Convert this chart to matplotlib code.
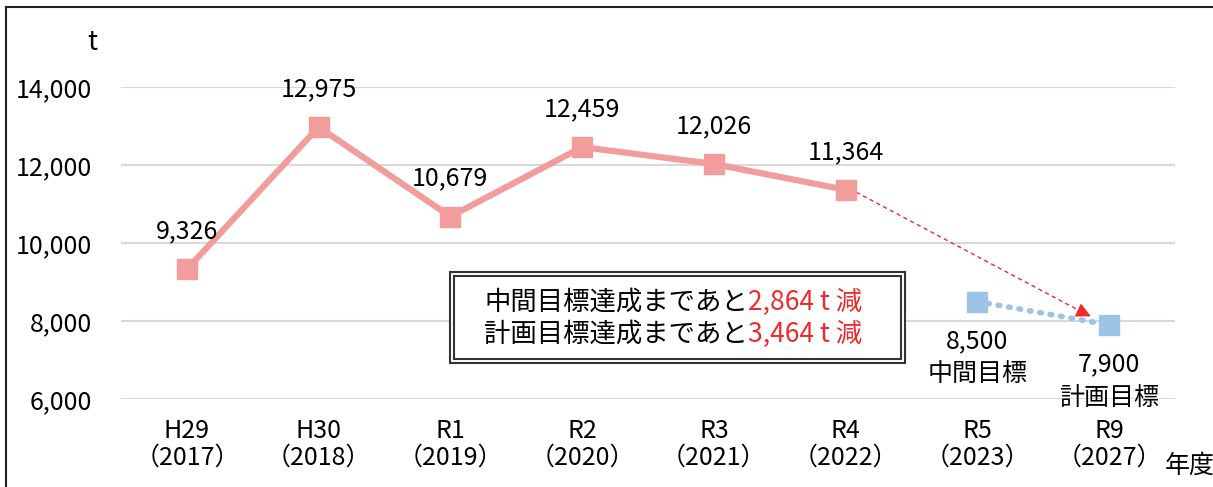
import matplotlib
matplotlib.use('Agg')
import matplotlib.pyplot as plt
from matplotlib.lines import Line2D
from matplotlib.patches import Rectangle

plt.rcParams['font.family'] = ['Noto Sans CJK JP', 'DejaVu Sans']

years = ['H29\n（2017）', 'H30\n（2018）', 'R1\n（2019）', 'R2\n（2020）',
         'R3\n（2021）', 'R4\n（2022）', 'R5\n（2023）', 'R9\n（2027）']
actual = [9326, 12975, 10679, 12459, 12026, 11364]
targets = [8500, 7900]
target_names = ['中間目標', '計画目標']
yticks = [6000, 8000, 10000, 12000, 14000]

pink = '#F29C9C'
blue = '#9DC3E6'
red = '#EE2A2A'

fig = plt.figure(figsize=(12.13, 4.87), dpi=100)
ax = fig.add_axes([121 / 1213, 1 - 399 / 487, (1175 - 121) / 1213, (399 - 87) / 487])

xs = list(range(len(actual)))
xt = [len(actual), len(actual) + 1]
ax.plot(xs, actual, color=pink, lw=4.5, marker='s', ms=14, zorder=3)
ax.plot(xt, targets, color=blue, lw=4, ls=(0, (0.3, 1.6)), dash_capstyle='round',
        marker='s', ms=14, zorder=3)

# dashed red arrow from R4 toward the plan target
ax.plot([xs[-1] + 0.08, xt[1] - 0.15], [actual[-1] - 60, targets[1] + 230],
        color=red, lw=1, ls=(0, (3, 2.5)), zorder=2)
ax.annotate('', xy=(xt[1] - 0.12, targets[1] + 190), xytext=(xt[1] - 0.2, targets[1] + 320),
            arrowprops=dict(arrowstyle='-|>', color=red, lw=1, mutation_scale=22), zorder=4)

for x, v in zip(xs, actual):
    ax.annotate(f'{v:,}', (x, v), xytext=(0, 18), textcoords='offset points',
                ha='center', va='bottom', fontsize=18)
for x, v, n in zip(xt, targets, target_names):
    ax.annotate(f'{v:,}\n{n}', (x, v), xytext=(0, -19), textcoords='offset points',
                ha='center', va='top', fontsize=18, linespacing=1.4)

ax.set_xlim(-0.5, len(years) - 0.5)
ax.set_ylim(6000, 14000)
ax.set_xticks(range(len(years)))
ax.set_xticklabels(years, fontsize=18, linespacing=1.0)
ax.set_yticks(yticks)
ax.set_yticklabels([f'{v:,}' for v in yticks], fontsize=18)
ax.tick_params(length=0)
ax.tick_params(axis='x', pad=14)
ax.tick_params(axis='y', pad=21)
ax.grid(axis='y', color='#D9D9D9', lw=1.5)
ax.set_axisbelow(True)
for s in ax.spines.values():
    s.set_visible(False)

fig.text(92 / 1213, 1 - 42 / 487, 't', fontsize=19, ha='center', va='center')
fig.text(1190 / 1213, 1 - 466 / 487, '年度', fontsize=18, ha='center', va='center')

# double-bordered note box
fig.patches.append(Rectangle((450 / 1213, 1 - 363 / 487), 455 / 1213, 91 / 487,
                             transform=fig.transFigure, fill=True, fc='white',
                             ec='#333333', lw=1.5, zorder=5))
fig.patches.append(Rectangle((454 / 1213, 1 - 359 / 487), 447 / 1213, 83 / 487,
                             transform=fig.transFigure, fill=False,
                             ec='#333333', lw=1.5, zorder=6))
jx = 748 / 1213
fig.text(jx, 1 - 302 / 487, '中間目標達成まであと', fontsize=19, ha='right', va='center', zorder=7)
fig.text(jx, 1 - 302 / 487, f'{actual[-1] - targets[0]:,} t 減', fontsize=19, color=red,
         ha='left', va='center', zorder=7)
fig.text(jx, 1 - 334 / 487, '計画目標達成まであと', fontsize=19, ha='right', va='center', zorder=7)
fig.text(jx, 1 - 334 / 487, f'{actual[-1] - targets[1]:,} t 減', fontsize=19, color=red,
         ha='left', va='center', zorder=7)

# outer frame
fig.lines.append(Line2D([6 / 1213, 6 / 1213], [0, 1 - 7 / 487], transform=fig.transFigure,
                        color='#222222', lw=1.5))
fig.lines.append(Line2D([6 / 1213, 1], [1 - 7 / 487, 1 - 7 / 487], transform=fig.transFigure,
                        color='#222222', lw=1.5))

fig.savefig('out.png', dpi=100)
